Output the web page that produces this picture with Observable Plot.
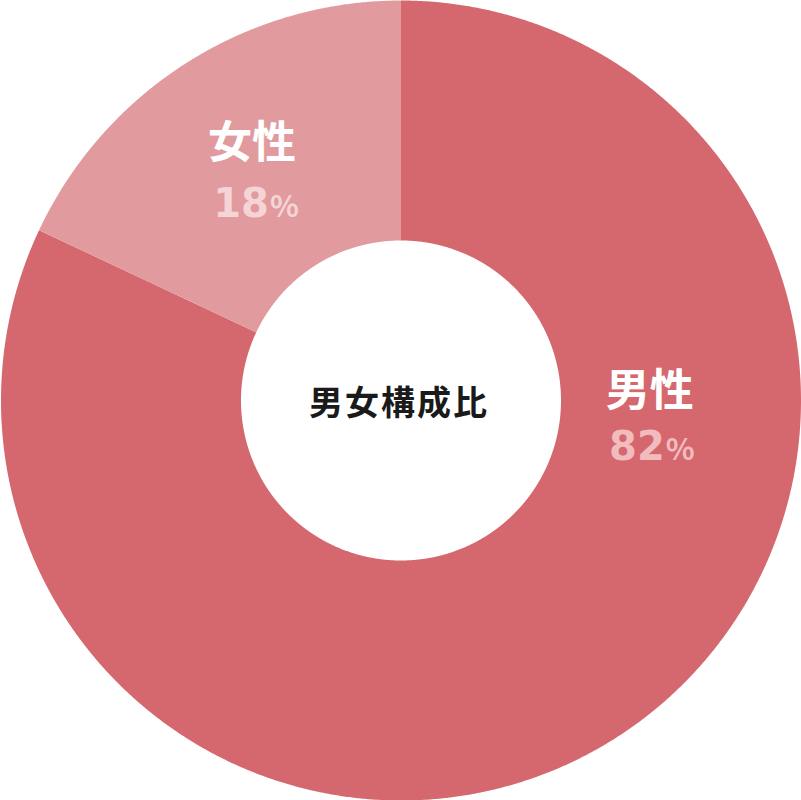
<!DOCTYPE html>
<html>
<head>
<meta charset="utf-8">
<script src="https://cdn.jsdelivr.net/npm/d3@7"></script>
<script src="https://cdn.jsdelivr.net/npm/@observablehq/plot@0.6"></script>
<style>
  html, body { margin: 0; padding: 0; background: #fff; }
  #chart svg { display: block; }
  .center-title text { letter-spacing: 2px; }
</style>
</head>
<body>
<div id="chart"></div>
<script>
// ---- data ----
const categories = ["男性", "女性"];
const shares = [82, 18];
const centerTitle = "男女構成比";
const sliceColors = ["#d5686e", "#e19b9e"];
const percentColors = ["#f2bbbe", "#f5d4d6"];

// ---- layout (not data) ----
const R_OUT = 400, R_IN = 160;
// label anchor for each slice: polar angle (deg, clockwise from top) and radius
const labelLayout = [
  {angle: 87.5, r: 249, pctDx: 16, pctDy: 70},
  {angle: 330.1, r: 299, pctDx: 18, pctDy: 76}
];

const total = d3.sum(shares);
let acc = 0;
const slices = categories.map((c, i) => {
  const a0 = acc / total * 2 * Math.PI;
  acc += shares[i];
  const a1 = acc / total * 2 * Math.PI;
  return {category: c, value: shares[i], a0, a1, i};
});

const ringPts = [];
for (const s of slices) {
  const n = Math.max(2, Math.ceil((s.a1 - s.a0) / (Math.PI / 720)));
  for (let k = 0; k <= n; k++) {
    const a = s.a0 + (s.a1 - s.a0) * k / n;
    ringPts.push({category: s.category, x: R_OUT * Math.sin(a), y: R_OUT * Math.cos(a)});
  }
  for (let k = n; k >= 0; k--) {
    const a = s.a0 + (s.a1 - s.a0) * k / n;
    ringPts.push({category: s.category, x: R_IN * Math.sin(a), y: R_IN * Math.cos(a)});
  }
}

const labels = slices.map(s => {
  const L = labelLayout[s.i];
  const ang = L.angle * Math.PI / 180;
  const x = L.r * Math.sin(ang), y = L.r * Math.cos(ang);
  return {
    category: s.category,
    pct: String(s.value),
    x, y,
    px: x + L.pctDx,
    py: y - L.pctDy,
    color: percentColors[s.i]
  };
});

const cjk = "'Noto Sans CJK JP', 'Noto Sans', sans-serif";
const digitFont = "'DejaVu Sans', sans-serif";

const chart = Plot.plot({
  width: 801,
  height: 800,
  margin: 0,
  x: {domain: [-400.5, 400.5], axis: null},
  y: {domain: [-400, 400], axis: null},
  color: {domain: categories, range: sliceColors},
  style: {fontFamily: cjk, background: "#fff"},
  marks: [
    Plot.line(ringPts, {x: "x", y: "y", z: "category", fill: "category", stroke: null, curve: "linear"}),
    Plot.text(labels, {x: "x", y: "y", text: "category", dy: 2.5, fill: "#fff",
      fontSize: 44, fontWeight: "bold", lineAnchor: "middle", textAnchor: "middle"}),
    Plot.text(labels, {x: "px", y: "py", text: "pct", dx: -1, fill: "color", fontFamily: digitFont,
      fontSize: 40, fontWeight: "bold", lineAnchor: "bottom", textAnchor: "end"}),
    Plot.text(labels, {x: "px", y: "py", text: () => "%", dx: 0, fill: "color",
      fontSize: 30, fontWeight: "bold", lineAnchor: "bottom", textAnchor: "start"}),
    Plot.text([centerTitle], {x: () => 0, y: () => 0, text: d => d, dx: -2, dy: 4,
      fill: "#1a1a1a", fontSize: 34, fontWeight: "bold", lineAnchor: "middle", textAnchor: "middle",
      className: "center-title"})
  ]
});
document.getElementById("chart").append(chart);
</script>
</body>
</html>
